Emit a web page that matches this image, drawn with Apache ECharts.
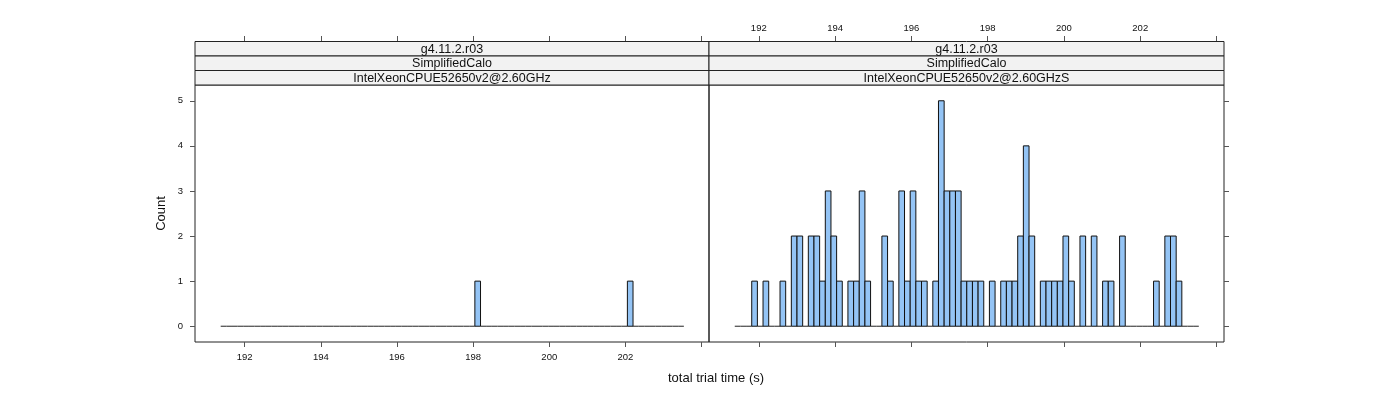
<!DOCTYPE html>
<html>
<head>
<meta charset="utf-8">
<script src="https://cdn.jsdelivr.net/npm/echarts@6/dist/echarts.min.js"></script>
<style>
  html, body { margin: 0; padding: 0; background: #fff; }
  #chart { width: 1400px; height: 400px; }
</style>
</head>
<body>
<div id="chart"></div>
<script>
// ---- data ----
const binStart = 191.37;          // left edge of first histogram bin (s)
const binWidth = 0.14835;         // bin width (s)
const countsLeft = [
  0,0,0,0,0,0,0,0,0,0, 0,0,0,0,0,0,0,0,0,0,
  0,0,0,0,0,0,0,0,0,0, 0,0,0,0,0,0,0,0,0,0,
  0,0,0,0,0,1,0,0,0,0, 0,0,0,0,0,0,0,0,0,0,
  0,0,0,0,0,0,0,0,0,0, 0,0,1,0,0,0,0,0,0,0,
  0,0
];
const countsRight = [
  0,0,0,1,0,1,0,0,1,0, 2,2,0,2,2,1,3,2,1,0,
  1,1,3,1,0,0,2,1,0,3, 1,3,1,1,0,1,5,3,3,3,
  1,1,1,1,0,1,0,1,1,1, 2,4,2,0,1,1,1,1,2,1,
  0,2,0,2,0,1,1,0,2,0, 0,0,0,0,1,0,2,2,1,0,
  0,0
];
const stripLeft = ['g4.11.2.r03', 'SimplifiedCalo', 'IntelXeonCPUE52650v2@2.60GHz'];
const stripRight = ['g4.11.2.r03', 'SimplifiedCalo', 'IntelXeonCPUE52650v2@2.60GHzS'];
const xTicks = [192, 194, 196, 198, 200, 202, 204];
const xTickLabels = [192, 194, 196, 198, 200, 202];
const yTicks = [0, 1, 2, 3, 4, 5];
const xTitle = 'total trial time (s)';
const yTitle = 'Count';

// ---- build ----
function toBins(counts) {
  return counts.map((c, i) => [binStart + i * binWidth, binStart + (i + 1) * binWidth, c]);
}
const FILL = '#94c4f5';
function renderItem(params, api) {
  const x0 = api.value(0), x1 = api.value(1), c = api.value(2);
  const pTop = api.coord([x0, c]);
  const pBot = api.coord([x1, 0]);
  if (c > 0) {
    return {
      type: 'rect',
      shape: { x: pTop[0], y: pTop[1], width: pBot[0] - pTop[0], height: pBot[1] - pTop[1] },
      style: { fill: FILL, stroke: '#111', lineWidth: 1 }
    };
  }
  return {
    type: 'line',
    shape: { x1: pTop[0], y1: pBot[1], x2: pBot[0], y2: pBot[1] },
    style: { stroke: '#222', lineWidth: 1 }
  };
}

const XMIN = 190.695, XMAX = 204.195;
const YMIN = -0.35, YMAX = 5.35;
const FONT = 'Liberation Sans, Arial, sans-serif';
const tickStyle = { color: '#555', width: 1 };

function xAx(grid, pos, showLabels, offset) {
  return {
    type: 'value', gridIndex: grid, position: pos, offset: offset || 0,
    min: XMIN, max: XMAX,
    axisLine: { show: false, onZero: false },
    splitLine: { show: false },
    axisTick: { show: true, inside: false, length: 5, lineStyle: tickStyle, customValues: xTicks },
    axisLabel: {
      show: showLabels, customValues: xTickLabels, fontSize: 9.5, color: '#111',
      fontFamily: FONT, margin: pos === 'top' ? 8 : 10
    }
  };
}

const stripGraphics = [];
const rowTops = [41.5, 56, 70.5];
const rowH = 14.5;
[[195, 514, stripLeft], [709, 515, stripRight]].forEach(([x, w, labels]) => {
  labels.forEach((t, i) => {
    stripGraphics.push({
      type: 'rect', shape: { x: x, y: rowTops[i], width: w, height: rowH },
      style: { fill: '#f2f2f2', stroke: '#222', lineWidth: 1 }, z: 10
    });
    stripGraphics.push({
      type: 'text', x: x + w / 2, y: rowTops[i] + rowH / 2 + 0.5,
      style: { text: t, fill: '#111', font: '12.5px ' + FONT, textAlign: 'center', textVerticalAlign: 'middle' },
      z: 11
    });
  });
});
stripGraphics.push({
  type: 'text', x: 716, y: 378,
  style: { text: xTitle, fill: '#111', font: '13px ' + FONT, textAlign: 'center', textVerticalAlign: 'middle' }
});

const option = {
  backgroundColor: '#fff',
  animation: false,
  grid: [
    { left: 195, top: 85, width: 514, height: 257, show: true, borderColor: '#222', borderWidth: 1, backgroundColor: 'transparent' },
    { left: 709, top: 85, width: 515, height: 257, show: true, borderColor: '#222', borderWidth: 1, backgroundColor: 'transparent' }
  ],
  xAxis: [
    xAx(0, 'bottom', true, 0),
    xAx(0, 'top', false, 44),
    xAx(1, 'bottom', false, 0),
    xAx(1, 'top', true, 44)
  ],
  yAxis: [
    {
      type: 'value', gridIndex: 0, position: 'left', min: YMIN, max: YMAX,
      axisLine: { show: false, onZero: false }, splitLine: { show: false },
      axisTick: { show: true, length: 5, lineStyle: tickStyle, customValues: yTicks },
      axisLabel: { customValues: yTicks, fontSize: 9.5, color: '#111', fontFamily: FONT, margin: 12 },
      name: yTitle, nameLocation: 'middle', nameGap: 27, nameRotate: 90,
      nameTextStyle: { fontSize: 13, color: '#111', fontFamily: FONT }
    },
    {
      type: 'value', gridIndex: 1, position: 'right', min: YMIN, max: YMAX,
      axisLine: { show: false, onZero: false }, splitLine: { show: false },
      axisTick: { show: true, length: 5, lineStyle: tickStyle, customValues: yTicks },
      axisLabel: { show: false }
    }
  ],
  series: [
    { type: 'custom', xAxisIndex: 0, yAxisIndex: 0, renderItem: renderItem, data: toBins(countsLeft), encode: { x: [0, 1], y: 2 } },
    { type: 'custom', xAxisIndex: 2, yAxisIndex: 1, renderItem: renderItem, data: toBins(countsRight), encode: { x: [0, 1], y: 2 } }
  ],
  graphic: stripGraphics
};

const chart = echarts.init(document.getElementById('chart'), null, { renderer: 'canvas' });
chart.setOption(option);
</script>
</body>
</html>
